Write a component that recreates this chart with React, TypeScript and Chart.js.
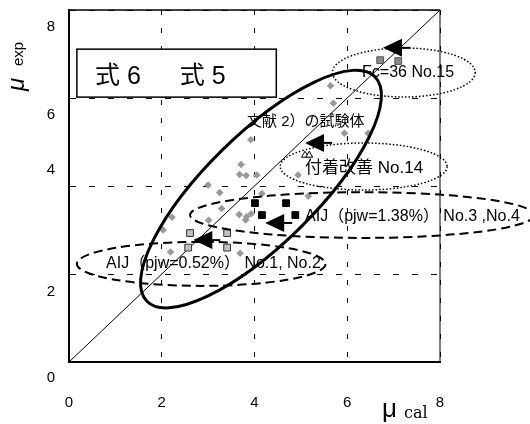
import React, { useEffect, useRef } from 'react';
import { Chart, registerables } from 'chart.js';

Chart.register(...registerables);

// ---- axis ticks ----
const tickValues = [0, 2, 4, 6, 8];
const tickLabels = ['0', '2', '4', '6', '8'];

// ---- series: 文献2) の試験体 (gray diamonds) ----
const refX = [5.64, 5.70, 3.92, 5.94, 6.45, 3.71, 3.68, 3.82, 4.05, 4.94, 3.00, 3.25, 4.16, 5.16, 3.29, 2.22, 3.01, 3.67, 3.83, 3.93, 3.81, 2.03, 2.19, 3.69];
const refY = [6.28, 5.88, 5.05, 5.20, 5.20, 4.49, 4.26, 4.24, 4.25, 4.25, 4.02, 3.85, 3.83, 3.77, 3.49, 3.29, 3.22, 3.35, 3.30, 3.37, 3.23, 3.00, 2.50, 2.47];

// ---- AIJ (pjw=0.52%) No.1, No.2 ----
const aij052X = [2.61, 3.41, 2.57, 3.41];
const aij052Y = [2.93, 2.93, 2.60, 2.60];

// ---- AIJ (pjw=1.38%) No.3, No.4 ----
const aij138X = [4.01, 4.68, 4.16, 4.88];
const aij138Y = [3.61, 3.61, 3.34, 3.34];

// ---- Fc=36 No.15 ----
const fc36X = [6.71, 7.10];
const fc36Y = [6.86, 6.84];

// ---- 付着改善 No.14 ----
const bondX = [5.09, 5.18];
const bondY = [4.70, 4.70];

// ---- arrows (tip positions) ----
const arrowX = [6.77, 5.09, 4.23, 2.68];
const arrowY = [7.14, 4.98, 3.16, 2.77];

// ---- 1:1 line ----
const diagX = [0, 8];
const diagY = [0, 8];

// ---- grouping ellipses (data units) ----
const ellCx = [4.14, 7.22, 6.354, 6.32, 2.85];
const ellCy = [3.93, 6.58, 4.443, 3.34, 2.23];
const ellRx = [3.45, 1.54, 1.80, 3.71, 2.68];
const ellRy = [1.25, 0.557, 0.534, 0.52, 0.50];
const ellRot = [44.5, 0, 0, 0, 0];
const ellKind = ['solid', 'dotted', 'dotted', 'dashed', 'dashed'];

// ---- annotation texts ----
const noteText = ['文献 2）の試験体', 'Fc=36 No.15', '付着改善 No.14', 'AIJ（pjw=1.38%） No.3 ,No.4', 'AIJ（pjw=0.52%） No.1, No.2'];
const noteX = [3.84, 6.32, 5.09, 5.09, 0.80];
const noteY = [5.45, 6.57, 4.41, 3.30, 2.23];
const noteSize = [15, 16, 17, 16, 16];

// ---- legend box ----
const boxText = ['式 6', '式 5'];
const boxTextX = [0.56, 2.39];
const boxTextY = 6.48;
const boxX = [0.17, 4.47];
const boxY = [7.11, 6.02];

const pts = (xs: number[], ys: number[]) => xs.map((x, i) => ({ x, y: ys[i] }));

const SANS = '"Liberation Sans", "Noto Sans CJK JP", sans-serif';

const overlay = {
  id: 'overlay',
  beforeDraw(chart: any) {
    const { ctx, chartArea: a } = chart;
    ctx.save();
    ctx.strokeStyle = '#808080';
    ctx.lineWidth = 2;
    ctx.beginPath();
    ctx.moveTo(a.right, a.top);
    ctx.lineTo(a.right, a.bottom);
    ctx.stroke();
    ctx.strokeStyle = '#000';
    ctx.lineWidth = 1.5;
    ctx.beginPath();
    ctx.moveTo(a.left, a.top);
    ctx.lineTo(a.right, a.top);
    ctx.stroke();
    ctx.restore();
  },
  beforeDatasetsDraw(chart: any) {
    const { ctx } = chart;
    const xs = chart.scales.x;
    const ys = chart.scales.y;
    ctx.save();
    // box
    const bx0 = xs.getPixelForValue(boxX[0]);
    const bx1 = xs.getPixelForValue(boxX[1]);
    const by0 = ys.getPixelForValue(boxY[0]);
    const by1 = ys.getPixelForValue(boxY[1]);
    ctx.fillStyle = '#fff';
    ctx.fillRect(bx0, by0, bx1 - bx0, by1 - by0);
    ctx.strokeStyle = '#000';
    ctx.lineWidth = 1.5;
    ctx.strokeRect(bx0, by0, bx1 - bx0, by1 - by0);
    ctx.fillStyle = '#000';
    ctx.font = '25px ' + SANS;
    ctx.textBaseline = 'middle';
    ctx.textAlign = 'left';
    boxText.forEach((t, i) => {
      ctx.fillText(t, xs.getPixelForValue(boxTextX[i]), ys.getPixelForValue(boxTextY));
    });
    // notes
    noteText.forEach((t, i) => {
      ctx.font = noteSize[i] + 'px ' + SANS;
      ctx.fillText(t, xs.getPixelForValue(noteX[i]), ys.getPixelForValue(noteY[i]));
    });
    ctx.restore();
  },
  afterDatasetsDraw(chart: any) {
    const { ctx } = chart;
    const xs = chart.scales.x;
    const ys = chart.scales.y;
    ctx.save();
    // ellipses
    ellCx.forEach((cx, i) => {
      const px = xs.getPixelForValue(cx);
      const py = ys.getPixelForValue(ellCy[i]);
      const rx = Math.abs(xs.getPixelForValue(cx + ellRx[i]) - px);
      const ry = Math.abs(ys.getPixelForValue(ellCy[i] + ellRy[i]) - py);
      ctx.strokeStyle = '#000';
      if (ellKind[i] === 'solid') {
        ctx.lineWidth = 3;
        ctx.setLineDash([]);
      } else if (ellKind[i] === 'dotted') {
        ctx.lineWidth = 1.5;
        ctx.setLineDash([1.5, 2]);
      } else {
        ctx.lineWidth = 2;
        ctx.setLineDash([9, 5]);
      }
      ctx.beginPath();
      ctx.ellipse(px, py, rx, ry, -ellRot[i] * Math.PI / 180, 0, Math.PI * 2);
      ctx.stroke();
    });
    ctx.setLineDash([]);
    // arrows
    arrowX.forEach((ax, i) => {
      const px = xs.getPixelForValue(ax);
      const py = ys.getPixelForValue(arrowY[i]);
      ctx.fillStyle = '#000';
      ctx.beginPath();
      ctx.moveTo(px, py);
      ctx.lineTo(px + 19, py - 9);
      ctx.lineTo(px + 19, py + 9);
      ctx.closePath();
      ctx.fill();
      ctx.strokeStyle = '#000';
      ctx.lineWidth = 2;
      ctx.beginPath();
      ctx.moveTo(px + 12, py);
      ctx.lineTo(px + 27, py);
      ctx.stroke();
    });
    ctx.restore();
  },
  afterDraw(chart: any) {
    const { ctx, chartArea: a } = chart;
    const xs = chart.scales.x;
    const ys = chart.scales.y;
    ctx.save();
    ctx.fillStyle = '#000';
    ctx.font = '15px ' + SANS;
    ctx.textBaseline = 'middle';
    ctx.textAlign = 'center';
    // x tick labels
    tickValues.forEach((v, i) => {
      ctx.fillText(tickLabels[i], xs.getPixelForValue(v), a.bottom + 41);
    });
    // y tick labels (offset as in the original figure)
    const yShift = [16, 18, -16, 17, 17];
    tickValues.forEach((v, i) => {
      ctx.fillText(tickLabels[i], a.left - 18, ys.getPixelForValue(v) + yShift[i]);
    });
    // x title: μ cal
    ctx.textAlign = 'left';
    ctx.textBaseline = 'alphabetic';
    ctx.font = '26px ' + SANS;
    ctx.fillText('μ', 382, 417);
    ctx.font = '16px "DejaVu Serif", serif';
    ctx.fillText('cal', 404, 418);
    // y title: μ exp (rotated)
    ctx.translate(24, 91);
    ctx.rotate(-Math.PI / 2);
    ctx.font = 'italic 24px ' + SANS;
    ctx.fillText('μ', 0, 0);
    ctx.font = '15px ' + SANS;
    ctx.fillText('exp', 25, -1);
    ctx.restore();
  },
};

export default function App() {
  const ref = useRef<HTMLCanvasElement>(null);
  useEffect(() => {
    const gridCommon = {
      color: '#000',
      lineWidth: 1,
      drawTicks: false,
    };
    const chart = new Chart(ref.current as HTMLCanvasElement, {
      type: 'scatter',
      data: {
        datasets: [
          {
            data: pts(aij138X, aij138Y),
            pointStyle: 'rect',
            pointRadius: 4.8,
            backgroundColor: '#000',
            borderColor: '#000',
            borderWidth: 1,
          },
          {
            data: pts(aij052X, aij052Y),
            pointStyle: 'rect',
            pointRadius: 4.8,
            backgroundColor: '#c0c0c0',
            borderColor: '#333',
            borderWidth: 1,
          },
          {
            data: pts(fc36X, fc36Y),
            pointStyle: 'rect',
            pointRadius: 4.8,
            backgroundColor: '#8a8a8a',
            borderColor: '#555',
            borderWidth: 1,
          },
          {
            data: pts(bondX, bondY),
            pointStyle: 'triangle',
            pointRadius: 4,
            backgroundColor: '#fff',
            borderColor: '#000',
            borderWidth: 1,
          },
          {
            data: pts(refX, refY),
            pointStyle: 'rectRot',
            pointRadius: 3.8,
            backgroundColor: '#999',
            borderColor: '#999',
            borderWidth: 0,
          },
          {
            data: pts(diagX, diagY),
            showLine: true,
            pointRadius: 0,
            borderColor: '#000',
            borderWidth: 1,
          },
        ],
      } as any,
      options: {
        responsive: false,
        animation: false,
        devicePixelRatio: 1,
        layout: { padding: { left: 69, right: 90, top: 10, bottom: 62 } },
        plugins: { legend: { display: false }, tooltip: { enabled: false } },
        scales: {
          x: {
            type: 'linear',
            min: 0,
            max: 8,
            ticks: { display: false, stepSize: 2 },
            grid: gridCommon,
            border: { display: true, color: '#000', width: 2, dash: [5, 13] },
          },
          y: {
            type: 'linear',
            min: 0,
            max: 8,
            ticks: { display: false, stepSize: 2 },
            grid: gridCommon,
            border: { display: true, color: '#000', width: 2, dash: [6, 13] },
          },
        },
      } as any,
      plugins: [overlay],
    });
    return () => chart.destroy();
  }, []);
  return (
    <div style={{ position: 'fixed', left: 0, top: 0, width: 530, height: 424, background: '#fff' }}>
      <canvas ref={ref} width={530} height={424} style={{ display: 'block' }} />
    </div>
  );
}
